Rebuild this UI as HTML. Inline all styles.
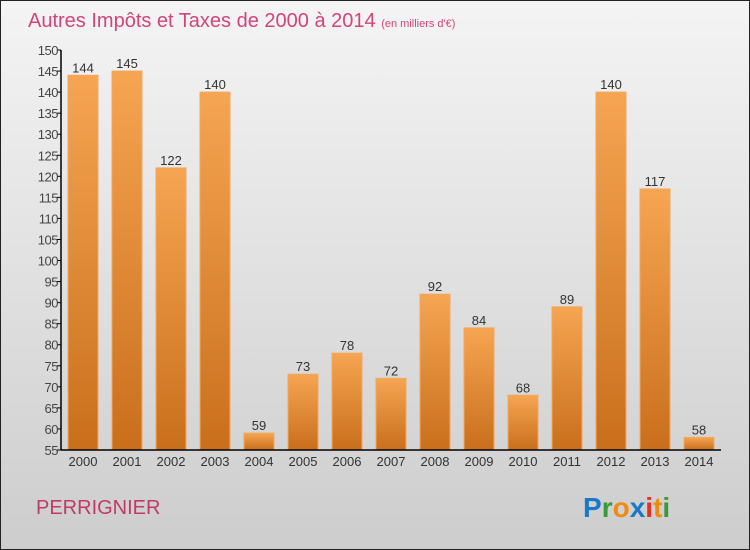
<!DOCTYPE html>
<html><head><meta charset="utf-8"><style>
body{margin:0;width:750px;height:550px;overflow:hidden}
svg{display:block;font-family:"Liberation Sans",sans-serif}
</style></head><body>
<svg width="750" height="550">
<defs>
<linearGradient id="bg" x1="0" y1="0" x2="0" y2="1"><stop offset="0" stop-color="#f4f4f4"/><stop offset="1" stop-color="#cdcdcd"/></linearGradient>
<linearGradient id="bar" x1="0" y1="0" x2="0" y2="1"><stop offset="0" stop-color="#f6a552"/><stop offset="1" stop-color="#c96f1c"/></linearGradient>
</defs>
<rect x="0.5" y="0.5" width="749" height="549" fill="url(#bg)" stroke="#222"/>
<text x="28" y="27" font-size="20" fill="#d0457a">Autres Impôts et Taxes de 2000 à 2014 <tspan font-size="11">(en milliers d'€)</tspan></text>
<g id="bars"></g>
<g id="axes"></g>
<text x="36" y="514" font-size="20" fill="#c03a68">PERRIGNIER</text>
<g font-size="28" font-family="'Liberation Sans',sans-serif" font-weight="bold">
<text x="583" y="517"><tspan fill="#1a78c8">P</tspan><tspan fill="#3a9a3a">r</tspan><tspan fill="#f08a10">o</tspan><tspan fill="#1a78c8">x</tspan><tspan fill="#e83020">i</tspan><tspan fill="#f08a10">t</tspan><tspan fill="#3a9a3a">i</tspan></text>
</g>
</svg>
<script>
const categories=["2000","2001","2002","2003","2004","2005","2006","2007","2008","2009","2010","2011","2012","2013","2014"];
const values=[144,145,122,140,59,73,78,72,92,84,68,89,140,117,58];
const yTicks=[55,60,65,70,75,80,85,90,95,100,105,110,115,120,125,130,135,140,145,150];
const NS="http://www.w3.org/2000/svg";
const x0=61,x1=721,yTop=50,yBot=450,ymin=55,ymax=150;
const slot=(x1-x0)/categories.length;
function y(v){return yBot-(v-ymin)/(ymax-ymin)*(yBot-yTop);}
function xc(i){return x0+slot*(i+0.5);}
function mk(t,a,p){const e=document.createElementNS(NS,t);for(const k in a)e.setAttribute(k,a[k]);p.appendChild(e);return e;}
const bars=document.getElementById('bars'),axes=document.getElementById('axes');
values.forEach((v,i)=>{
 const r=mk('rect',{x:xc(i)-15,y:y(v),width:30,height:yBot-y(v),fill:'url(#bar)',stroke:'#f2a85c','stroke-width':1},bars);
 
 
 const t=mk('text',{x:xc(i),y:y(v)-3,'text-anchor':'middle','font-size':13,fill:'#333'},bars);
 t.textContent=v;
 
 
 const c=mk('text',{x:xc(i),y:466,'text-anchor':'middle','font-size':13,fill:'#333'},axes);
 c.textContent=categories[i];
 
 
});
yTicks.forEach(v=>{
 mk('line',{x1:x0-4,x2:x0,y1:y(v),y2:y(v),stroke:'#000'},axes);
 const t=mk('text',{x:x0-3,y:y(v)+5,'text-anchor':'end','font-size':13,fill:'#444','letter-spacing':'-0.5'},axes);
 t.textContent=v;
 
 
});
const ya=mk('line',{x1:x0,x2:x0,y1:yTop,y2:yBot,stroke:'#000','stroke-width':1.5},axes);


const xa=mk('line',{x1:x0,x2:x1,y1:yBot,y2:yBot,stroke:'#000','stroke-width':1.5},axes);


</script>
</body></html>
